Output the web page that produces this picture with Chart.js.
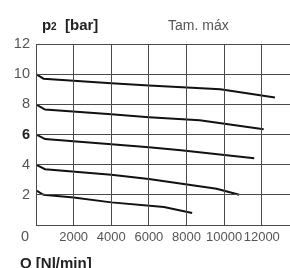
<!DOCTYPE html>
<html>
<head>
<meta charset="utf-8">
<script src="https://cdn.jsdelivr.net/npm/chart.js@4/dist/chart.umd.min.js"></script>
<style>
  html, body { margin: 0; padding: 0; background: #fff; }
  canvas { display: block; }
</style>
</head>
<body>
<canvas id="flowChart" width="290" height="268"></canvas>
<script>
// Caudal Q [Nl/min] vs presión secundaria p2 [bar], una curva por presión de regulación
const q10 = [0, 400, 4000, 6000, 9800, 12700];
const p10 = [10, 9.7, 9.4, 9.25, 9.0, 8.45];
const q8 = [0, 480, 4000, 6000, 8700, 12100];
const p8 = [8, 7.65, 7.35, 7.15, 6.95, 6.35];
const q6 = [0, 480, 4000, 6000, 7700, 11600];
const p6 = [6, 5.7, 5.35, 5.15, 4.95, 4.42];
const q4 = [0, 480, 4000, 6000, 9600, 10800];
const p4 = [4, 3.7, 3.33, 3.05, 2.4, 2.0];
const q2 = [0, 400, 2000, 4000, 6800, 8300];
const p2 = [2.3, 2.0, 1.82, 1.5, 1.2, 0.8];

const xTicks = [0, 2000, 4000, 6000, 8000, 10000, 12000];
const yTicks = [0, 2, 4, 6, 8, 10, 12];

const GRID = '#4a4a4a';
const TEXT = '#555';
const FONT = '"Liberation Sans", Arial, sans-serif';

function pts(qs, ps) {
    return qs.map((q, i) => ({ x: q, y: ps[i] }));
}

document.addEventListener('DOMContentLoaded', () => {
    const curves = [[q10, p10], [q8, p8], [q6, p6], [q4, p4], [q2, p2]];

    // rejilla y textos fuera del área, posiciones sacadas de las escalas
    const overlay = {
        id: 'overlay',
        afterDraw(chart) {
            const c = chart.ctx;
            const a = chart.chartArea;
            const sx = chart.scales.x;
            const sy = chart.scales.y;
            c.save();
            c.globalAlpha = 1;
            c.globalCompositeOperation = 'source-over';
            c.fillStyle = GRID;
            xTicks.forEach(v => {
                const px = Math.round(sx.getPixelForValue(v) - 0.5);
                c.fillRect(px, Math.round(a.top - 0.5), 1, Math.round(a.bottom - a.top) + 1);
            });
            yTicks.forEach(v => {
                const py = Math.round(sy.getPixelForValue(v) - 0.5);
                c.fillRect(Math.round(a.left - 0.5), py, Math.round(a.right - a.left) + 1, 1);
            });

            c.textBaseline = 'alphabetic';
            c.textAlign = 'left';
            c.fillStyle = '#222';
            c.font = 'bold 15px ' + FONT;
            c.fillText('p', 42, 30);
            c.font = 'bold 10px ' + FONT;
            c.fillText('2', 51, 30);
            c.font = 'bold 15px ' + FONT;
            c.fillText('[bar]', 65, 30);
            c.fillStyle = TEXT;
            c.font = '14px ' + FONT;
            c.fillText('Tam. máx', 168, 30);
            c.fillStyle = '#222';
            c.font = 'bold 15px ' + FONT;
            c.fillText('Q [Nl/min]', 20, 268);
            c.fillStyle = TEXT;
            c.font = '14.5px ' + FONT;
            c.textAlign = 'right';
            c.textBaseline = 'middle';
            c.fillText('0', a.left - 7, a.bottom + 12);
            c.restore();
        }
    };

    new Chart(document.getElementById('flowChart'), {
        type: 'line',
        data: {
            datasets: curves.map(([qs, ps]) => ({
                data: pts(qs, ps),
                borderColor: '#111',
                borderWidth: 2,
                pointRadius: 0,
                tension: 0,
                fill: false
            }))
        },
        options: {
            responsive: false,
            devicePixelRatio: 1,
            animation: false,
            layout: { padding: { top: 44, left: 0, right: 0, bottom: 0 } },
            plugins: {
                legend: { display: false },
                tooltip: { enabled: false }
            },
            scales: {
                x: {
                    type: 'linear',
                    min: 0,
                    max: 13500,
                    afterBuildTicks: (scale) => {
                        scale.ticks = xTicks.map(v => ({ value: v }));
                    },
                    afterFit: (scale) => { scale.height = 43; },
                    grid: { display: false, drawTicks: false },
                    border: { display: false },
                    ticks: {
                        padding: 5,
                        color: TEXT,
                        maxRotation: 0,
                        autoSkip: false,
                        font: { family: FONT, size: 13 },
                        callback: (v) => v === 0 ? '' : String(v)
                    }
                },
                y: {
                    min: 0,
                    max: 12,
                    afterBuildTicks: (scale) => {
                        scale.ticks = yTicks.map(v => ({ value: v }));
                    },
                    afterFit: (scale) => { scale.width = 36; },
                    grid: { display: false, drawTicks: false },
                    border: { display: false },
                    ticks: {
                        padding: 6,
                        color: (ctx) => ctx.tick && ctx.tick.value === 6 ? '#222' : TEXT,
                        font: (ctx) => ({
                            family: FONT,
                            size: 14.5,
                            weight: ctx.tick && ctx.tick.value === 6 ? 'bold' : 'normal'
                        }),
                        callback: (v) => v === 0 ? '' : String(v)
                    }
                }
            }
        },
        plugins: [overlay]
    });
});
</script>
</body>
</html>
